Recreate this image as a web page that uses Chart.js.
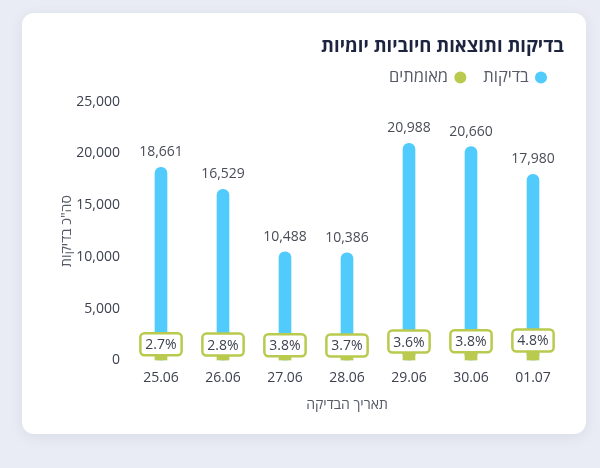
<!DOCTYPE html>
<html>
<head>
<meta charset="utf-8">
<script src="https://cdn.jsdelivr.net/npm/chart.js@4"></script>
<style>
  html, body { margin: 0; padding: 0; }
  body { width: 600px; height: 468px; background: #e9ecf4; position: relative; overflow: hidden; }
  .card {
    position: absolute; left: 22px; top: 13px; width: 564px; height: 421px;
    background: #fff; border-radius: 12px;
    box-shadow: 0 3px 14px rgba(40, 50, 90, 0.08);
  }
  .card canvas { display: block; }
</style>
</head>
<body>
<div class="card"><canvas id="testsChart" width="564" height="421"></canvas></div>
<script>
// Daily tests and confirmed cases
const dates = ['25.06', '26.06', '27.06', '28.06', '29.06', '30.06', '01.07'];
const tests = [18661, 16529, 10488, 10386, 20988, 20660, 17980];
const confirmed = [504, 463, 399, 384, 756, 785, 863];
const yTicks = [0, 5000, 10000, 15000, 20000, 25000];

const BLUE = '#50cbfc';
const GREEN = '#b9ca4e';
const FONT = "'Open Sans', 'Noto Sans', sans-serif";

// value labels above blue bars, percentage boxes above green bars
const barLabels = {
    id: 'barLabels',
    afterDatasetsDraw(chart) {
        const ctx = chart.ctx;
        ctx.save();
        ctx.font = '14px ' + FONT;
        ctx.textAlign = 'center';
        ctx.textBaseline = 'middle';

        const testsMeta = chart.getDatasetMeta(0);
        testsMeta.data.forEach((bar, i) => {
            ctx.fillStyle = '#4a4d57';
            ctx.fillText(tests[i].toLocaleString('en-US'), bar.x, bar.y - 15);
        });

        const confMeta = chart.getDatasetMeta(1);
        confMeta.data.forEach((bar, i) => {
            const pct = (confirmed[i] / tests[i] * 100).toFixed(1) + '%';
            const w = ctx.measureText(pct).width + 10;
            const h = 22;
            const cx = bar.x;
            const cy = bar.y - 11;
            ctx.beginPath();
            ctx.roundRect(cx - w / 2, cy - h / 2, w, h, 4);
            ctx.fillStyle = '#fff';
            ctx.fill();
            ctx.lineWidth = 2.5;
            ctx.strokeStyle = GREEN;
            ctx.stroke();
            ctx.fillStyle = '#3d4150';
            ctx.fillText(pct, cx, cy + 1);
        });
        ctx.restore();
    }
};

// extra room under the legend
const legendGap = {
    id: 'legendGap',
    beforeInit(chart) {
        const fit = chart.legend.fit;
        chart.legend.fit = function () {
            fit.bind(chart.legend)();
            this.height += 6;
        };
    }
};

new Chart(document.getElementById('testsChart'), {
    type: 'bar',
    data: {
        labels: dates,
        datasets: [{
            label: 'בדיקות',
            data: tests,
            backgroundColor: BLUE,
            borderRadius: 6,
            borderSkipped: false,
            barThickness: 12,
            grouped: false,
            order: 1
        }, {
            label: 'מאומתים',
            data: confirmed,
            backgroundColor: GREEN,
            barThickness: 12,
            grouped: false,
            order: 0
        }]
    },
    options: {
        responsive: false,
        animation: false,
        layout: {
            padding: { top: 23, right: 22, bottom: 21, left: 37 }
        },
        plugins: {
            title: {
                display: true,
                text: 'בדיקות ותוצאות חיוביות יומיות',
                align: 'end',
                color: '#1d2440',
                font: { family: FONT, size: 18.5, weight: 'bold' },
                padding: { top: 0, bottom: -8 }
            },
            legend: {
                display: true,
                align: 'start',
                rtl: true,
                reverse: true,
                labels: {
                    usePointStyle: true,
                    pointStyle: 'circle',
                    boxWidth: 8,
                    boxHeight: 8.5,
                    padding: 19,
                    color: '#555a66',
                    font: { family: FONT, size: 16.5 }
                }
            },
            tooltip: { enabled: false }
        },
        scales: {
            x: {
                grid: { display: false },
                border: { display: false },
                ticks: {
                    color: '#3d4150',
                    padding: 1,
                    font: { family: FONT, size: 14 }
                },
                title: {
                    display: true,
                    text: 'תאריך הבדיקה',
                    color: '#555a66',
                    font: { family: FONT, size: 14 },
                    padding: { top: 9, bottom: 0 }
                }
            },
            y: {
                min: 0,
                max: yTicks[yTicks.length - 1],
                afterBuildTicks: (axis) => {
                    axis.ticks = yTicks.map(v => ({ value: v }));
                },
                afterFit: (axis) => {
                    axis.width = 71;
                },
                grid: { display: false },
                border: { display: false },
                ticks: {
                    color: '#3d4150',
                    padding: 2,
                    font: { family: FONT, size: 14 },
                    callback: (v) => Number(v).toLocaleString('en-US')
                },
                title: {
                    display: true,
                    text: 'סה"כ בדיקות',
                    color: '#555a66',
                    font: { family: FONT, size: 14 },
                    padding: { top: 0, bottom: 0 }
                }
            }
        }
    },
    plugins: [barLabels, legendGap]
});
</script>
</body>
</html>
